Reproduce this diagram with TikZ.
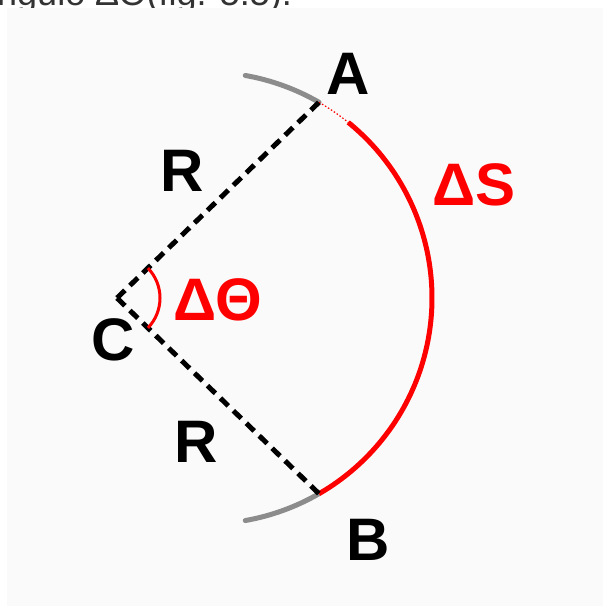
\documentclass[tikz,border=0pt]{standalone}
\usepackage{fontspec}
\usetikzlibrary{calc}
\setmainfont{Liberation Sans}
\newfontfamily\lblfont{Liberation Sans}
\definecolor{panelbg}{HTML}{FAFAFA}
\definecolor{arcred}{HTML}{FF0000}
\definecolor{arcgray}{HTML}{8C8C8C}
\definecolor{toptext}{HTML}{333333}
\tikzset{
  radius line/.style={black, line width=5pt, dash pattern=on 11pt off 7pt},
  arc main/.style={arcred, line width=5pt},
  arc faint/.style={arcred, line width=1.2pt, dash pattern=on 1.5pt off 2pt},
  arc ext/.style={arcgray, line width=5pt},
  angle mark/.style={arcred, line width=3pt},
  big label/.style={font=\lblfont\fontsize{60}{62}\selectfont\bfseries, inner sep=0pt},
}
\begin{document}
\begin{tikzpicture}[x=1pt,y=1pt]
\useasboundingbox (0,0) rectangle (603,-606);
\fill[white] (0,0) rectangle (603,-606);
\begin{scope}
\clip (0,0) rectangle (603,-606);
\node[anchor=base west, inner sep=0pt, text=toptext, font=\fontsize{36}{40}\selectfont] (caption) at (-23,-5) {ângulo ΔΘ(fig. 5.5).};
\end{scope}
\fill[panelbg] (7,-8) rectangle (603,-606);
% key points
\coordinate (C) at (117,-298);
\coordinate (A) at (319,-102.3);
\coordinate (B) at (319,-493.7);
\coordinate (O) at (206,-298);
\coordinate (Asolid) at ($(O)+(51:226)$);
% gray extensions of the arc
\draw[arc ext, line cap=round] (A) arc[start angle=60, end angle=80, radius=226];
\draw[arc ext, line cap=round] (B) arc[start angle=-60, end angle=-80, radius=226];
% red arc Delta S
\draw[arc faint] (A) arc[start angle=60, end angle=51, radius=226];
\draw[arc main] (Asolid) arc[start angle=51, end angle=-60, radius=226];
% radii
\draw[radius line] (C) -- (A);
\draw[radius line] (C) -- (B);
% angle mark
\draw[angle mark] ($(C)+(44:43)$) arc[start angle=44, end angle=-44, radius=43];
% labels
\node[big label] (labA) at (348,-74) {A};
\node[big label] (labB) at (368,-540) {B};
\node[big label] (labC) at (113,-340) {C};
\node[big label] (labR1) at (182,-171) {R};
\node[big label] (labR2) at (196,-442) {R};
\node[big label, text=arcred] (labS) at (474,-185) {ΔS};
\node[big label, text=arcred] (labT) at (218,-300) {ΔΘ};
\end{tikzpicture}
\end{document}
